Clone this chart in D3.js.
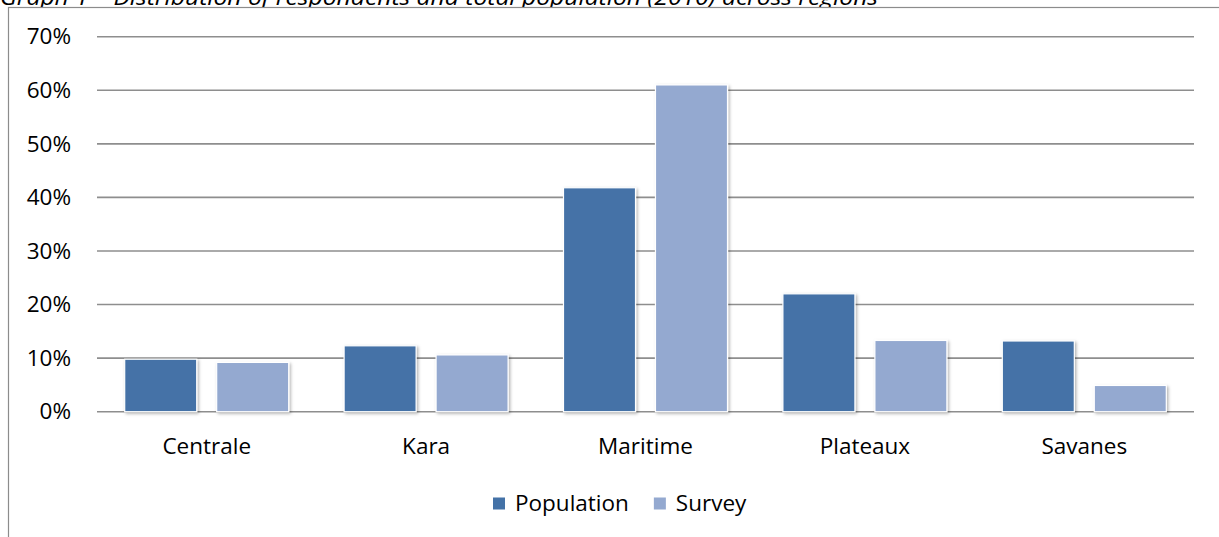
<!DOCTYPE html>
<html>
<head>
<meta charset="utf-8">
<script src="https://cdn.jsdelivr.net/npm/d3@7/dist/d3.min.js"></script>
<style>
  html, body { margin: 0; padding: 0; background: #fff; overflow: hidden; }
  svg { display: block; }
  text { font-family: "Open Sans", "Noto Sans", sans-serif; fill: #000; }
</style>
</head>
<body>
<script>
// Regional distribution: share of total population vs. share of survey respondents
const categories = ["Centrale", "Kara", "Maritime", "Plateaux", "Savanes"];
const seriesNames = ["Population", "Survey"];
const populationValues = [0.098, 0.123, 0.418, 0.220, 0.132];
const surveyValues = [0.092, 0.106, 0.610, 0.133, 0.049];
const yTickValues = [0, 0.1, 0.2, 0.3, 0.4, 0.5, 0.6, 0.7];
const titleText = "Graph 1 \u2013 Distribution of respondents and total population (2010) across regions";

const W = 1219, H = 537;
const colors = { Population: "#4472a7", Survey: "#94a9d0" };

const rows = categories.map((c, i) => ({
  category: c,
  values: [
    { key: "Population", value: populationValues[i] },
    { key: "Survey", value: surveyValues[i] }
  ]
}));

const svg = d3.select("body").append("svg")
  .attr("width", W).attr("height", H);

const defs = svg.append("defs");
const shadow = defs.append("filter").attr("id", "barShadow")
  .attr("x", "-20%").attr("y", "-10%").attr("width", "150%").attr("height", "130%");
shadow.append("feDropShadow")
  .attr("dx", 1.5).attr("dy", 1.5).attr("stdDeviation", 1.6)
  .attr("flood-color", "#000").attr("flood-opacity", 0.3);

// Title (sits above the chart frame)
svg.append("text")
  .attr("x", 0).attr("y", 5)
  .style("font-style", "italic")
  .style("font-size", "21px")
  .attr("textLength", 878)
  .attr("lengthAdjust", "spacingAndGlyphs")
  .text(titleText);

// Chart frame
svg.append("rect")
  .attr("x", 8.5).attr("y", 7.5)
  .attr("width", 1400).attr("height", 700)
  .attr("fill", "#fff")
  .attr("stroke", "#8c8c8c").attr("stroke-width", 1.2);

// Scales
const plotLeft = 97, plotRight = 1194;
const y = d3.scaleLinear().domain([0, 0.7]).range([411.7, 36.7]);
const x0 = d3.scaleBand().domain(categories).range([plotLeft, plotRight])
  .paddingInner(0.2525).paddingOuter(0.12625);
const x1 = d3.scaleBand().domain(seriesNames).range([0, x0.bandwidth()])
  .paddingInner(0.217).paddingOuter(0);

// Gridlines
svg.append("g").selectAll("line")
  .data(yTickValues).join("line")
  .attr("x1", plotLeft).attr("x2", plotRight)
  .attr("y1", d => y(d)).attr("y2", d => y(d))
  .attr("stroke", "#8e8e8e").attr("stroke-width", 1.6);

// Y axis labels
const yAxis = d3.axisLeft(y).tickValues(yTickValues)
  .tickFormat(d3.format(".0%")).tickSize(0).tickPadding(0);
const yg = svg.append("g").attr("transform", "translate(71,0)").call(yAxis);
yg.select(".domain").remove();
yg.selectAll("text")
  .style("font-size", "22.5px")
  .attr("font-family", null)
  .attr("fill", "#000");

// Bars
const groups = svg.append("g").selectAll("g")
  .data(rows).join("g")
  .attr("transform", d => `translate(${x0(d.category)},0)`);
groups.selectAll("rect")
  .data(d => d.values).join("rect")
  .attr("x", d => x1(d.key))
  .attr("width", x1.bandwidth())
  .attr("y", d => y(d.value))
  .attr("height", d => y(0) - y(d.value))
  .attr("fill", d => colors[d.key])
  .attr("stroke", "#fff").attr("stroke-width", 1.2)
  .attr("filter", "url(#barShadow)");

// Category labels
const xAxis = d3.axisBottom(x0).tickSize(0).tickPadding(0);
const xg = svg.append("g").attr("transform", "translate(0,454)").call(xAxis);
xg.select(".domain").remove();
xg.selectAll("text")
  .attr("dy", null).attr("y", 0)
  .style("font-size", "22.5px")
  .attr("font-family", null)
  .attr("fill", "#000");

// Legend
const legend = svg.append("g").attr("transform", "translate(493,0)");
let lx = 0;
seriesNames.forEach(name => {
  const item = legend.append("g").attr("transform", `translate(${lx},0)`);
  item.append("rect")
    .attr("x", 0).attr("y", 497.5).attr("width", 12).attr("height", 12)
    .attr("fill", colors[name]);
  const t = item.append("text")
    .attr("x", 22).attr("y", 511)
    .style("font-size", "22.5px")
    .text(name);
  lx += 22 + t.node().getComputedTextLength() + 25;
});
</script>
</body>
</html>
